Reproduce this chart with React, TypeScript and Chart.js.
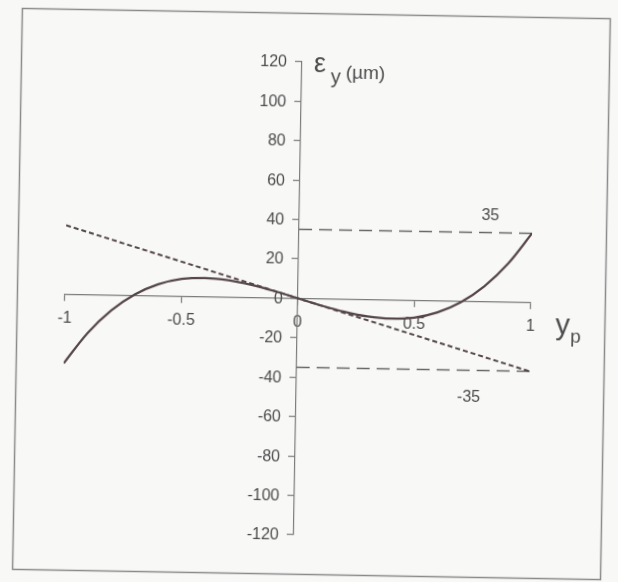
import { useEffect, useRef } from "react";
import { Chart, registerables } from "chart.js";

Chart.register(...registerables);

// Normalised position across the section
const yp = [-1, -0.9, -0.8, -0.7, -0.6, -0.5, -0.4, -0.3, -0.2, -0.1, 0, 0.1, 0.2, 0.3, 0.4, 0.5, 0.6, 0.7, 0.8, 0.9, 1];
// Strain (µm) along the section
const strain = [-35, -19.5, -7.8, 0.5, 5.9, 8.8, 9.5, 8.6, 6.4, 3.4, 0, -3.4, -6.4, -8.6, -9.5, -8.8, -5.9, -0.5, 7.8, 19.5, 35];

// Linear term (tangent at the origin)
const tangentX = [-1, 1];
const tangentY = [35, -35];

// Bounds at ±35
const boundX = [0, 1];
const upperY = [35, 35];
const lowerY = [-35, -35];
const upperLabel = "35";
const lowerLabel = "-35";

const xTickValues = [-1, -0.5, 0, 0.5, 1];
const yTickValues = [-120, -100, -80, -60, -40, -20, 0, 20, 40, 60, 80, 100, 120];

const FONT = "'Liberation Sans', Arial, sans-serif";
const TEXT = "#4c4c4c";
const AXIS = "#7c7c7c";
const CURVE = "#55464a";
const TICK_LEN = 6;

const zip = (xs: number[], ys: number[]) => xs.map((x, i) => ({ x, y: ys[i] }));

const annotations = {
  id: "annotations",
  beforeDraw(chart: any) {
    const { ctx } = chart;
    ctx.save();
    ctx.fillStyle = "#f8f8f7";
    ctx.fillRect(0, 0, chart.width, chart.height);
    ctx.strokeStyle = "#8a8a8a";
    ctx.lineWidth = 1.5;
    ctx.strokeRect(17.5, 13.5, 588, 561);
    ctx.restore();
  },
  afterDraw(chart: any) {
    const { ctx, scales } = chart;
    const sx = scales.x;
    const sy = scales.y;
    const x0 = sx.getPixelForValue(0);
    const yTop = sy.getPixelForValue(120);
    const y0 = sy.getPixelForValue(0);
    const xEnd = sx.getPixelForValue(1);
    ctx.save();
    ctx.fillStyle = TEXT;

    // y tick labels, to the left of the centred axis
    ctx.font = `16px ${FONT}`;
    ctx.textAlign = "right";
    ctx.textBaseline = "middle";
    for (const t of sy.ticks) {
      ctx.fillText(String(t.value), x0 - TICK_LEN - 9, sy.getPixelForValue(t.value) + 1);
    }

    ctx.textAlign = "left";
    ctx.textBaseline = "alphabetic";

    // y-axis title: εy (µm)
    ctx.font = `27px ${FONT}`;
    ctx.fillText("ε", x0 + 12, yTop + 10);
    ctx.font = `20px ${FONT}`;
    ctx.fillText("y", x0 + 29, yTop + 21);
    ctx.font = `19px ${FONT}`;
    ctx.fillText("(µm)", x0 + 44, yTop + 16);

    // x-axis title: yp
    ctx.font = `29px ${FONT}`;
    ctx.fillText("y", xEnd + 25, y0 + 31);
    ctx.font = `19px ${FONT}`;
    ctx.fillText("p", xEnd + 40, y0 + 39);

    // bound labels
    ctx.font = `16px ${FONT}`;
    ctx.textAlign = "center";
    ctx.textBaseline = "middle";
    ctx.fillText(upperLabel, sx.getPixelForValue(0.82), sy.getPixelForValue(upperY[1]) - 17);
    ctx.fillText(lowerLabel, sx.getPixelForValue(0.74), sy.getPixelForValue(lowerY[1]) + 27);
    ctx.restore();
  },
};

export default function App() {
  const canvasRef = useRef<HTMLCanvasElement | null>(null);

  useEffect(() => {
    const canvas = canvasRef.current;
    if (!canvas) return;
    const chart = new Chart(canvas, {
      type: "line",
      data: {
        datasets: [
          {
            data: zip(yp, strain),
            borderColor: CURVE,
            borderWidth: 2.2,
            pointRadius: 0,
            cubicInterpolationMode: "monotone",
          },
          {
            data: zip(tangentX, tangentY),
            borderColor: CURVE,
            borderWidth: 2,
            borderDash: [5, 3],
            pointRadius: 0,
          },
          {
            data: zip(boundX, upperY),
            borderColor: "#686868",
            borderWidth: 1.6,
            borderDash: [13, 7],
            pointRadius: 0,
          },
          {
            data: zip(boundX, lowerY),
            borderColor: "#686868",
            borderWidth: 1.6,
            borderDash: [13, 7],
            pointRadius: 0,
          },
        ],
      },
      options: {
        animation: false,
        responsive: false,
        parsing: false as any,
        layout: { padding: { left: 65, right: 87, top: 62, bottom: 47 } },
        plugins: { legend: { display: false }, tooltip: { enabled: false } },
        scales: {
          x: {
            type: "linear",
            min: -1,
            max: 1,
            position: { y: 0 } as any,
            afterBuildTicks: (scale: any) => {
              scale.ticks = xTickValues.map((value) => ({ value }));
            },
            grid: { drawOnChartArea: false, drawTicks: true, tickLength: TICK_LEN, color: AXIS, lineWidth: 1.2 },
            border: { color: AXIS, width: 1.2 },
            ticks: {
              color: TEXT,
              font: { family: FONT, size: 16 },
              padding: 8,
              autoSkip: false,
              maxRotation: 0,
              callback: (v: any) => String(v),
            },
          },
          y: {
            type: "linear",
            min: -120,
            max: 120,
            position: { x: 0 } as any,
            afterBuildTicks: (scale: any) => {
              scale.ticks = yTickValues.map((value) => ({ value }));
            },
            grid: { drawOnChartArea: false, drawTicks: true, tickLength: TICK_LEN, color: AXIS, lineWidth: 1.2 },
            border: { color: AXIS, width: 1.2 },
            ticks: { display: false },
          },
        },
      },
      plugins: [annotations],
    });
    return () => chart.destroy();
  }, []);

  return (
    <div style={{ position: "fixed", left: 0, top: 0, width: 618, height: 582, background: "#f8f8f7", overflow: "hidden" }}>
      <div style={{ position: "absolute", left: 0, top: 0, width: 618, height: 582, transform: "rotate(1deg)", transformOrigin: "309px 291px" }}>
        <canvas ref={canvasRef} width={618} height={582} style={{ display: "block" }} />
      </div>
    </div>
  );
}
